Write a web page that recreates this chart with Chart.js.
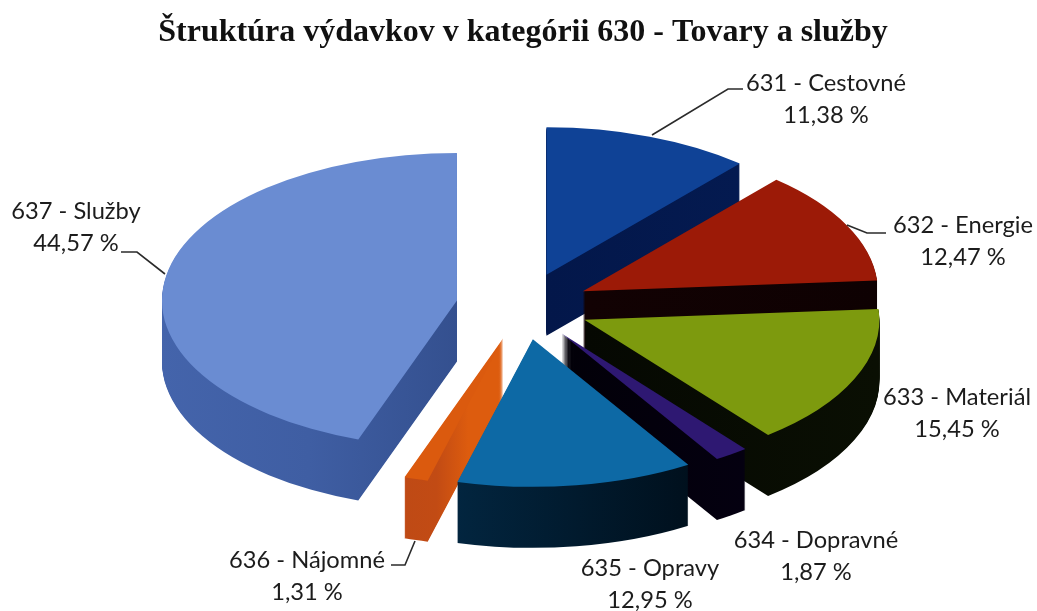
<!DOCTYPE html>
<html lang="sk"><head><meta charset="utf-8">
<style>html,body{margin:0;padding:0;background:#fff}#w{width:1037px;height:611px;position:relative}</style>
<script src="https://cdn.jsdelivr.net/npm/chart.js@4"></script></head>
<body><div id="w"><canvas id="c" width="1037" height="611"></canvas></div>
<script>
const titleText = 'Štruktúra výdavkov v kategórii 630 - Tovary a služby';
const categories = ['631 - Cestovné','632 - Energie','633 - Materiál','634 - Dopravné','635 - Opravy','636 - Nájomné','637 - Služby'];
const shares = [11.38,12.47,15.45,1.87,12.95,1.31,44.57];
const topColors = ['#0f4296','#9c1a07','#7d9a0e','#2e1872','#0d69a5','#db5a0e','#6a8cd2'];
// wall colours: evenly spaced stops of a screen-x gradient over wallSpan
const wallColors = [['#03174a','#041a50'],['#120203','#0e0102'],['#050802','#0a0f03'],['#020008','#040010'],['#02253f','#00101d'],['#bf4a15','#c24b14','#dd5c0e','#dd5c0e'],['#4464ab','#3f5ea3','#34508f']];
const wallSpan = [[547,740],[585,877],[585,877],[563,745],[457,690],[405,500],[160,457]];
const paintOrder = [0,1,6,2,3,5,4];
const labelCentres = [[826,83],[963,225],[957,397],[816,540],[650,568],[307,560],[76,211]];
const leaders = [[[652,135],[728,89],[743,89]],[[847,225],[867,233],[886,233]],null,null,null,[[415,541],[405,565],[391,565]],[[165,274],[137,252],[121,252]]];
const squash = 0.5, depth = 61, lineGap = 32, explode = 67;

const pie3d = {
  id:'pie3d',
  beforeDatasetsDraw(chart){
    const ctx = chart.ctx, arcs = chart.getDatasetMeta(0).data;
    ctx.save();
    const cx = arcs[0].x, cy = arcs[0].y;
    ctx.translate(cx,cy); ctx.scale(1,squash); ctx.translate(-cx,-cy);
    paintOrder.forEach(i=>{
      const a = arcs[i], o = a.options, mid = (a.startAngle+a.endAngle)/2;
      const ex = Math.cos(mid)*explode, ey = Math.sin(mid)*explode;
      const g = ctx.createLinearGradient(wallSpan[i][0]-ex,0,wallSpan[i][1]-ex,0);
      wallColors[i].forEach((c,k,l)=>g.addColorStop(k/(l.length-1),c));
      ctx.save(); ctx.translate(ex,ey);
      a.options = Object.assign({},o,{backgroundColor:g});
      for(let d=depth;d>0;d--){
        ctx.save(); ctx.translate(0,d/squash); a.draw(ctx); ctx.restore();
      }
      a.options = o;
      a.draw(ctx);
      ctx.restore();
    });
    ctx.restore();
    return false;
  },
  afterDraw(chart){
    const ctx = chart.ctx;
    ctx.save();
    ctx.strokeStyle='#2b2b2b'; ctx.lineWidth=1.6;
    leaders.forEach(l=>{ if(!l) return; ctx.beginPath(); l.forEach((p,k)=>k?ctx.lineTo(p[0],p[1]):ctx.moveTo(p[0],p[1])); ctx.stroke(); });
    ctx.fillStyle='#1c1c1c'; ctx.font='23.7px Lato'; ctx.textAlign='center'; ctx.textBaseline='middle';
    categories.forEach((c,i)=>{
      const [x,y]=labelCentres[i];
      ctx.fillText(c,x,y);
      ctx.fillText(shares[i].toFixed(2).replace('.',',')+' %',x,y+lineGap);
    });
    ctx.restore();
  }
};

new Chart(document.getElementById('c'),{
  type:'pie',
  data:{labels:categories,datasets:[{data:shares,backgroundColor:topColors,borderWidth:0,hoverOffset:0,clip:false}]},
  options:{
    responsive:false,animation:false,events:[],radius:295,rotation:0,
    layout:{padding:{left:9,right:0,top:0,bottom:51}},
    plugins:{
      legend:{display:false},tooltip:{enabled:false},
      title:{display:true,text:titleText,color:'#111',font:{family:'"Liberation Serif"',size:32,weight:'bold',lineHeight:1.2},padding:{top:14,bottom:0}}
    }
  },
  plugins:[pie3d]
});
</script></body></html>
